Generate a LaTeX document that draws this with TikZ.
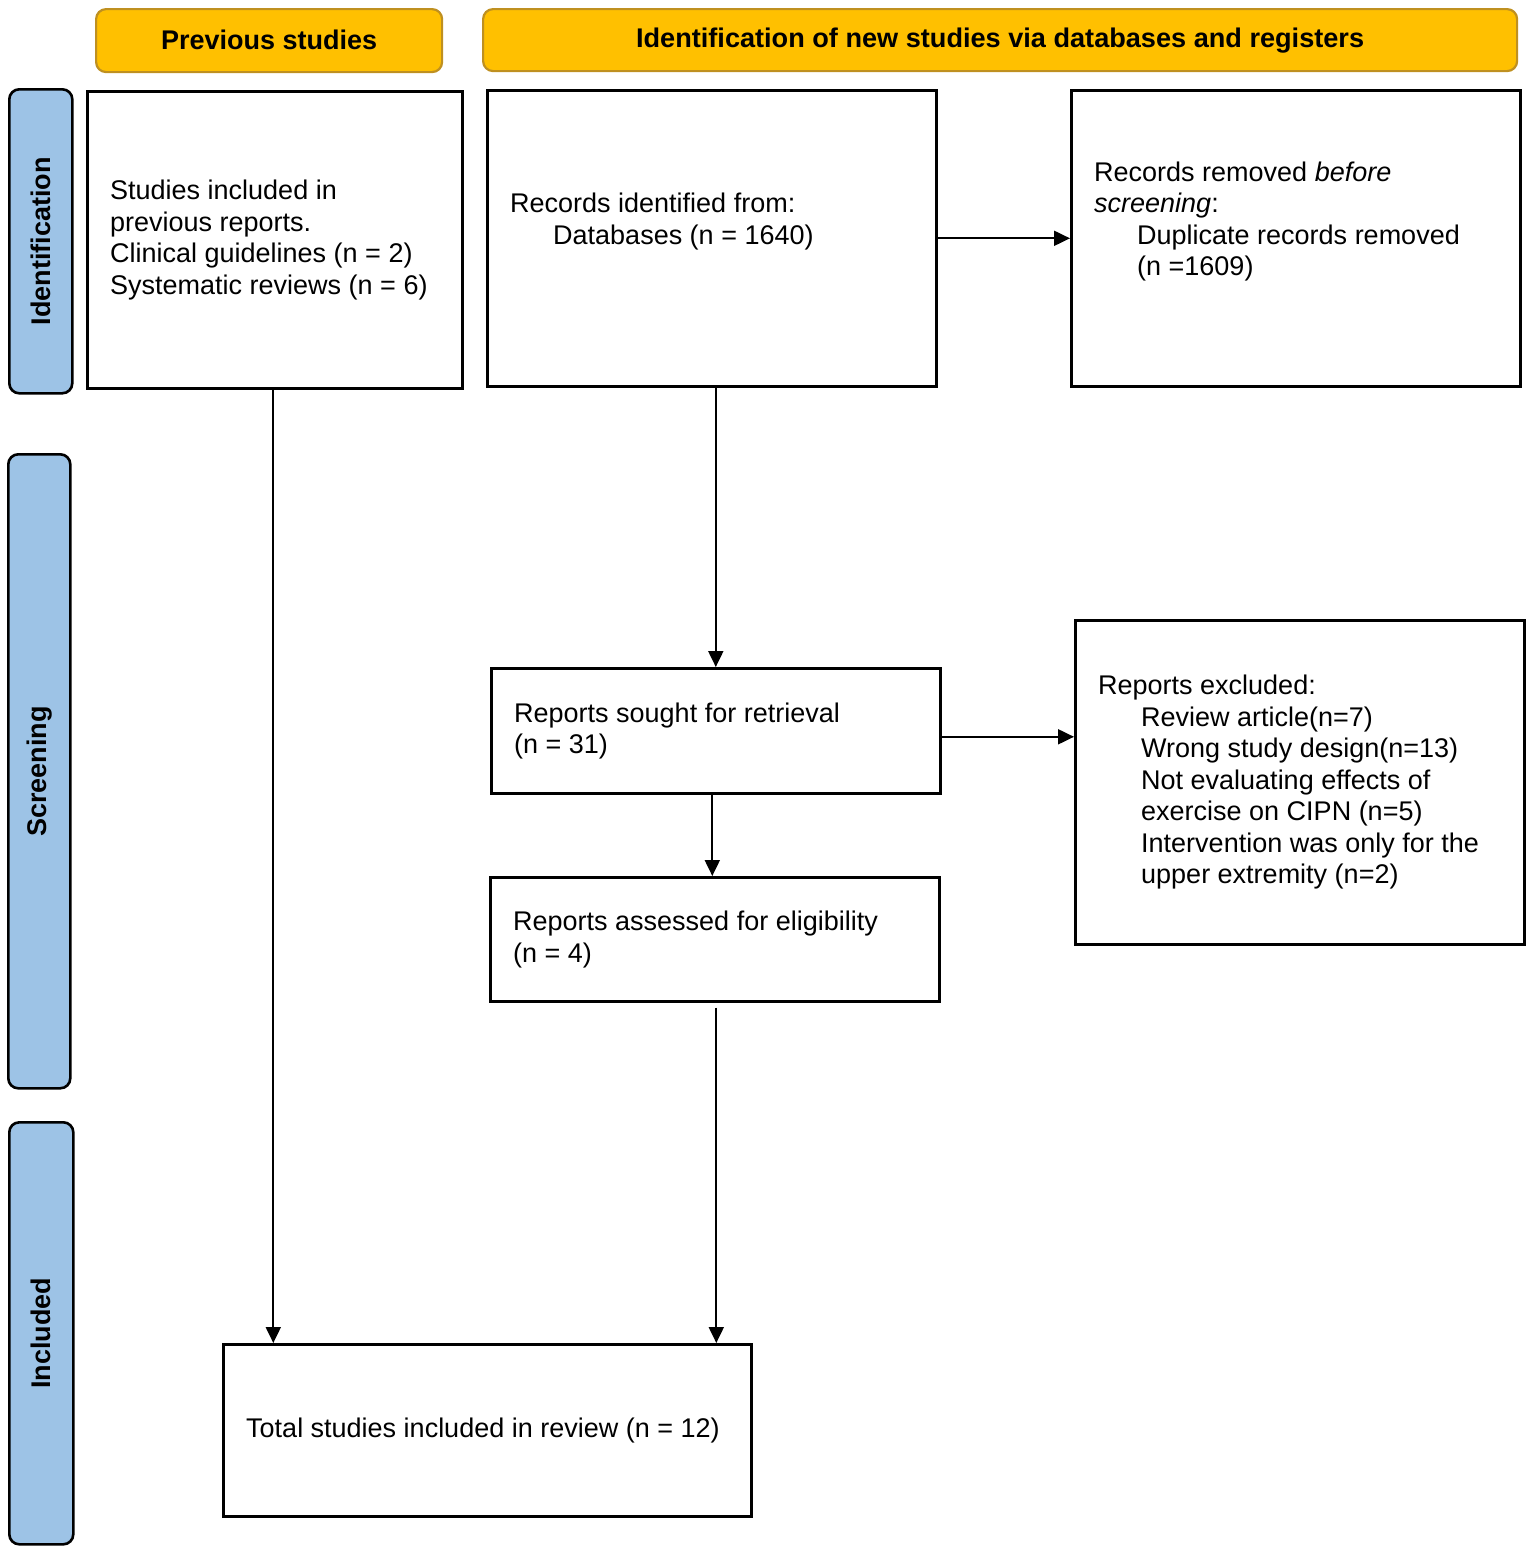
\documentclass[tikz,border=0pt]{standalone}
\usepackage{fontspec}
\setmainfont{Liberation Sans}
\usepackage{graphicx}
\usetikzlibrary{arrows.meta,calc}
\definecolor{hdryellow}{HTML}{FFC000}
\definecolor{hdrborder}{HTML}{BF9020}
\definecolor{sideblue}{HTML}{9DC3E6}
\tikzset{
  box/.style={draw=black, line width=2.6pt, rectangle, anchor=north west, inner sep=0pt},
  hdr/.style={draw=hdrborder, fill=hdryellow, line width=2.2pt, rounded corners=10pt, anchor=north west, inner sep=0pt, font=\fontsize{27}{31.5}\selectfont\bfseries},
  side/.style={draw=black, fill=sideblue, line width=2.6pt, rounded corners=10pt, anchor=north west, inner sep=0pt},
  sidelbl/.style={rotate=90, font=\fontsize{27}{31.5}\selectfont\bfseries, inner sep=0pt},
  txt/.style={anchor=west, align=left, inner sep=0pt, font=\fontsize{27}{31.5}\selectfont},
  arr/.style={line width=2pt, -{Triangle[length=16pt,width=15pt]}}
}
\begin{document}
\begin{tikzpicture}[x=1pt,y=-1pt]
\useasboundingbox (0,0) rectangle (1532,1550);
% headers
\node[hdr, minimum width=346pt, minimum height=63pt] (hprev) at (95,8) {\raisebox{2pt}{Previous studies}};
\node[hdr, minimum width=1034pt, minimum height=62pt] (hnew) at (482,8) {\resizebox{728pt}{\height}{Identification of new studies via databases and registers}};
% side bars
\node[side, minimum width=63pt, minimum height=304pt] (sid) at (8,88) {};
\node[sidelbl] (lid) at (sid.center) {Identification};
\node[side, minimum width=62pt, minimum height=634pt] (sscr) at (7,453) {};
\node[sidelbl] (lscr) at (sscr.center) {Screening};
\node[side, minimum width=64pt, minimum height=422pt] (sinc) at (8,1121) {};
\node[sidelbl] (linc) at (sinc.center) {Included};
% boxes
\node[box, minimum width=375pt, minimum height=297pt] (prev) at (86,90) {};
\node[txt] (tprev) at ([xshift=24pt]prev.west) {Studies included in\\previous reports.\\Clinical guidelines (n = 2)\\Systematic reviews (n = 6)};
\node[box, minimum width=449pt, minimum height=296pt] (rec) at (486,89) {};
\node[txt] (trec) at ([xshift=24pt,yshift=17pt]rec.west) {Records identified from:\\\hspace*{43pt}Databases (n = 1640)};
\node[box, minimum width=449pt, minimum height=296pt] (rem) at (1070,89) {};
\node[txt] (trem) at ([xshift=24pt,yshift=17pt]rem.west) {Records removed \textit{before}\\\textit{screening}:\\\hspace*{43pt}Duplicate records removed\\\hspace*{43pt}(n =1609)};
\node[box, minimum width=449pt, minimum height=125pt] (sought) at (490,667) {};
\node[txt] (tsought) at ([xshift=24pt]sought.west) {Reports sought for retrieval\\(n = 31)};
\node[box, minimum width=449pt, minimum height=324pt] (excl) at (1074,619) {};
\node[txt] (texcl) at ([xshift=24pt]excl.west) {Reports excluded:\\\hspace*{43pt}Review article(n=7)\\\hspace*{43pt}Wrong study design(n=13)\\\hspace*{43pt}Not evaluating effects of\\\hspace*{43pt}exercise on CIPN (n=5)\\\hspace*{43pt}Intervention was only for the\\\hspace*{43pt}upper extremity (n=2)};
\node[box, minimum width=449pt, minimum height=124pt] (assess) at (489,876) {};
\node[txt] (tassess) at ([xshift=24pt]assess.west) {Reports assessed for eligibility\\(n = 4)};
\node[box, minimum width=528pt, minimum height=172pt] (total) at (222,1343) {};
\node[txt] (ttotal) at ([xshift=24pt]total.west) {Total studies included in review (n = 12)};
% arrows
\draw[arr] ([xshift=-1.5pt]prev.south) -- ([xshift=-1.5pt]prev.south |- total.north);
\draw[arr] (sought.north |- rec.south) -- (sought.north);
\draw[arr] (rec.east) -- (rem.west);
\draw[arr] ([yshift=-6pt]sought.east) -- ([yshift=-6pt]sought.east -| excl.west);
\draw[arr] ([xshift=-3.5pt]sought.south) -- ([xshift=-3.5pt]sought.south |- assess.north);
\draw[arr] ([xshift=1.5pt,yshift=-5pt]assess.south) -- ([xshift=1.5pt]assess.south |- total.north);
\end{tikzpicture}
\end{document}
